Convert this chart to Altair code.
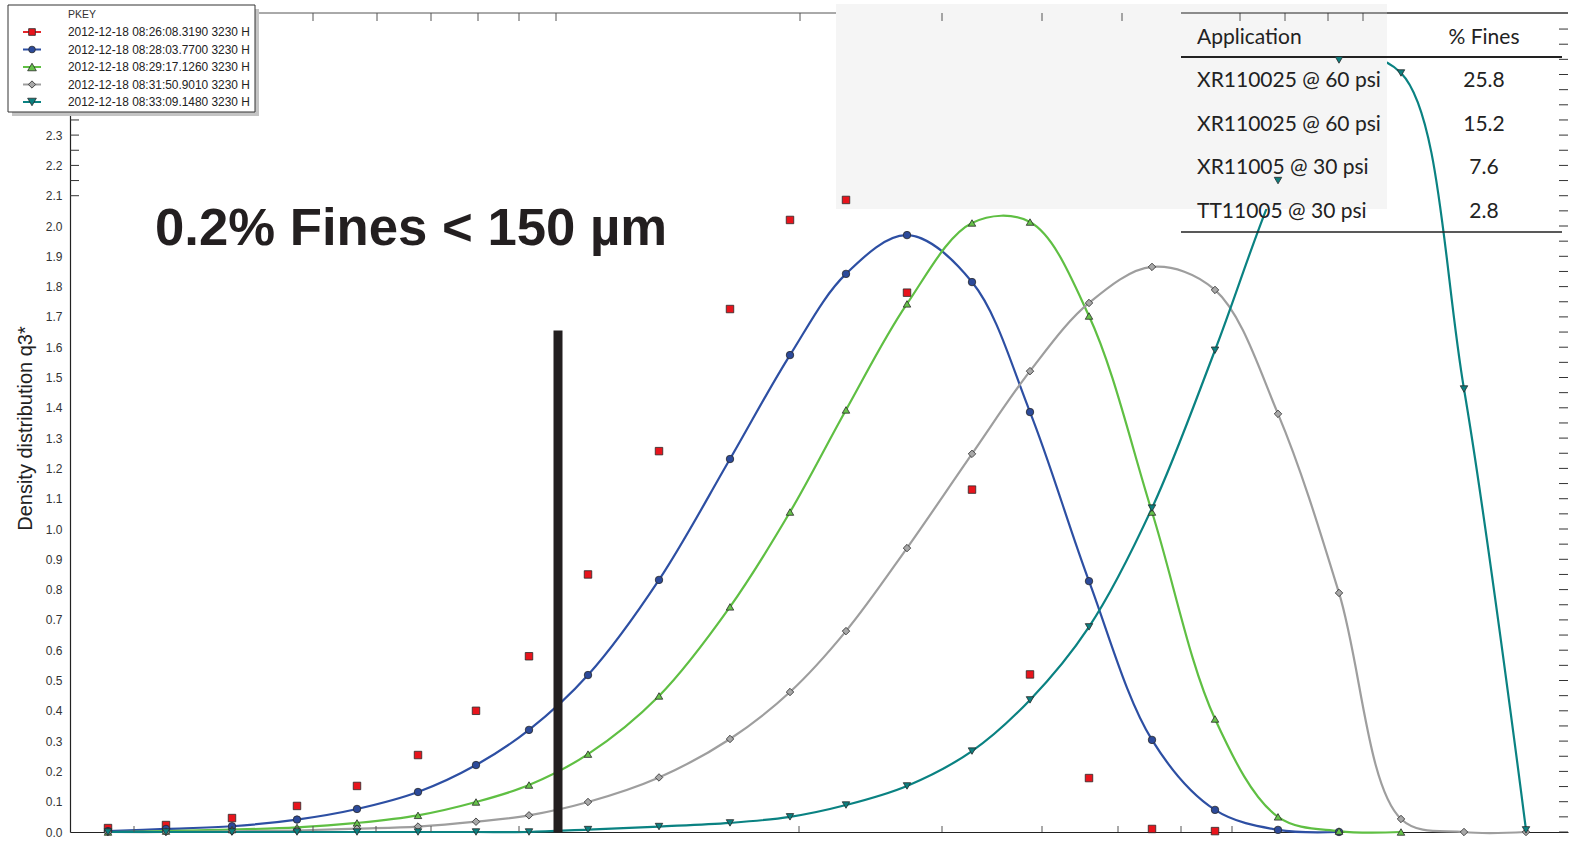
import altair as alt
import pandas as pd
import numpy as np

# ---------------- data ----------------
# particle-size class positions along the (log) size axis, in axis units
class_pos = [38, 96, 162, 227, 287, 348, 406, 459, 518, 589, 660, 720,
             776, 837, 902, 960, 1019, 1082, 1145, 1208, 1269, 1331, 1394, 1456]

series_names = [
    "2012-12-18 08:26:08.3190 3230 H",
    "2012-12-18 08:28:03.7700 3230 H",
    "2012-12-18 08:29:17.1260 3230 H",
    "2012-12-18 08:31:50.9010 3230 H",
    "2012-12-18 08:33:09.1480 3230 H",
]

q3_red = [0.013, 0.023, 0.046, 0.086, 0.152, 0.254, 0.40, 0.58, 0.85, 1.257,
          1.726, 2.02, 2.086, 1.78, 1.13, 0.52, 0.178, 0.01, 0.003]
q3_blue = [0.003, 0.01, 0.019, 0.041, 0.076, 0.132, 0.221, 0.337, 0.518, 0.832,
           1.231, 1.574, 1.842, 1.97, 1.815, 1.386, 0.828, 0.304, 0.073, 0.007, 0.0]
q3_green = [0.0, 0.003, 0.008, 0.015, 0.03, 0.055, 0.099, 0.155, 0.257, 0.449,
            0.743, 1.056, 1.393, 1.743, 2.01, 2.013, 1.703, 1.056, 0.373, 0.05, 0.003, 0.0]
q3_gray = [0.0, 0.0, 0.002, 0.005, 0.011, 0.018, 0.034, 0.055, 0.099, 0.18,
           0.307, 0.462, 0.663, 0.937, 1.248, 1.521, 1.746, 1.865, 1.789, 1.38,
           0.789, 0.043, 0.0, 0.0]
q3_teal = [0.0, 0.0, 0.0, 0.0, 0.0, 0.0, 0.0, 0.0, 0.008, 0.018, 0.03, 0.05,
           0.089, 0.152, 0.267, 0.436, 0.677, 1.069, 1.59, 2.15, 2.548, 2.505, 1.462, 0.007]

series_values = [q3_red, q3_blue, q3_green, q3_gray, q3_teal]

# 150 µm cut position and its marker bar height
cut_pos = [488]
cut_height = [1.655]

annotation = "0.2% Fines < 150 µm"

table_apps = ["XR110025 @ 60 psi", "XR110025 @ 60 psi", "XR11005 @ 30 psi", "TT11005 @ 30 psi"]
table_fines = ["25.8", "15.2", "7.6", "2.8"]

y_labels = [0.0, 0.1, 0.2, 0.3, 0.4, 0.5, 0.6, 0.7, 0.8, 0.9, 1.0, 1.1,
            1.2, 1.3, 1.4, 1.5, 1.6, 1.7, 1.8, 1.9, 2.0, 2.1, 2.2, 2.3]
bottom_ticks = [64, 243, 306, 361, 449, 729, 872, 972, 1048, 1111, 1162]
top_ticks = [243, 307, 361, 408, 449, 486, 730, 872, 972, 1052, 1170, 1215, 1258, 1293]

# ---------------- styling ----------------
line_colors = ["#e3262b", "#2d4fa3", "#5fbf43", "#9e9e9e", "#0a8282"]
fill_colors = ["#e8141c", "#2c4a9a", "#66c24a", "#a8a8a8", "#0c7f7f"]
shapes = ["square", "circle", "triangle-up", "diamond", "triangle-down"]
sizes = [56, 56, 95, 66, 95]

W, H = 1498, 819
YMAX = 2.703
FONT = "Liberation Sans"

rows = []
for name, vals in zip(series_names, series_values):
    for xp, v in zip(class_pos, vals):
        rows.append({"series": name, "x": xp, "q3": v})
df = pd.DataFrame(rows)
df_lines = df[df["series"] != series_names[0]]

xscale = alt.Scale(domain=[0, W], nice=False, zero=False)
yscale = alt.Scale(domain=[0, YMAX], nice=False, zero=False)

x_axis = alt.Axis(title=None, labels=False, ticks=False, grid=False,
                  domainColor="#222", domainWidth=1.2)
y_axis = alt.Axis(title="Density distribution q3*", values=y_labels, format=".1f",
                  ticks=False, tickSize=0, grid=False, labelPadding=8,
                  labelOverlap=False, labelFlush=False,
                  labelFont=FONT, labelFontSize=12, labelColor="#333",
                  domainColor="#222", domainWidth=1.2,
                  titleFont=FONT, titleFontSize=20, titleFontWeight="normal",
                  titleColor="#222", titleAngle=-90, titleX=-35, titleY=415,
                  titleAlign="center", titleBaseline="bottom")

X = alt.X("x:Q", scale=xscale, axis=x_axis)
Y = alt.Y("q3:Q", scale=yscale, axis=y_axis)

color_scale = alt.Scale(domain=series_names, range=line_colors)
fill_scale = alt.Scale(domain=series_names, range=fill_colors)
shape_scale = alt.Scale(domain=series_names, range=shapes)
size_scale = alt.Scale(domain=series_names, range=sizes)

layers = []

one = pd.DataFrame({"a": [0]})

# top border
layers.append(alt.Chart(one).mark_rule(color="#555", strokeWidth=1).encode(
    x=alt.value(0), x2=alt.value(W), y=alt.value(0)))

# curves
layers.append(alt.Chart(df_lines).mark_line(interpolate="catmull-rom", strokeWidth=2.2).encode(
    x=X, y=Y, color=alt.Color("series:N", scale=color_scale, legend=None)))

# 150 µm bar
df_bar = pd.DataFrame({"x": cut_pos, "q3": cut_height, "zero": [0.0]})
layers.append(alt.Chart(df_bar).mark_rule(strokeWidth=9, color="#231f20").encode(
    x=X, y=Y, y2=alt.Y2("zero:Q")))

# grey table background
layers.append(alt.Chart(one).mark_rect(fill="#f5f5f5").encode(
    x=alt.value(766), x2=alt.value(1317), y=alt.value(-9), y2=alt.value(196)))

# top ticks
layers.append(alt.Chart(pd.DataFrame({"x": top_ticks})).mark_rule(color="#555").encode(
    x=X, y=alt.value(0), y2=alt.value(8)))
# bottom ticks
layers.append(alt.Chart(pd.DataFrame({"x": bottom_ticks})).mark_rule(color="#555").encode(
    x=X, y=alt.value(H - 6), y2=alt.value(H)))
# right-edge ticks
right_ticks = [round(v, 2) for v in np.arange(0, 2.70, 0.05)]
layers.append(alt.Chart(pd.DataFrame({"q3": right_ticks})).mark_rule(color="#333").encode(
    y=Y, x=alt.value(W - 9), x2=alt.value(W)))
# left inner ticks near the top
left_ticks = [2.1, 2.15, 2.2, 2.25, 2.3, 2.35]
layers.append(alt.Chart(pd.DataFrame({"q3": left_ticks})).mark_rule(color="#333").encode(
    y=Y, x=alt.value(0), x2=alt.value(9)))

# table lines
layers.append(alt.Chart(one).mark_rule(color="#222", strokeWidth=1.2).encode(
    x=alt.value(1111), x2=alt.value(W), y=alt.value(0)))
layers.append(alt.Chart(one).mark_rule(color="#222", strokeWidth=2.2).encode(
    x=alt.value(1111), x2=alt.value(1492), y=alt.value(44)))
layers.append(alt.Chart(one).mark_rule(color="#222", strokeWidth=1.6).encode(
    x=alt.value(1111), x2=alt.value(1492), y=alt.value(219)))

# table text
TFONT = "Lato"
hdr = pd.DataFrame({"t": ["Application"]})
layers.append(alt.Chart(hdr).mark_text(font=TFONT, fontSize=21, align="left",
                                      baseline="middle", color="#222").encode(
    text="t:N", x=alt.value(1127), y=alt.value(25)))
hdr2 = pd.DataFrame({"t": ["% Fines"]})
layers.append(alt.Chart(hdr2).mark_text(font=TFONT, fontSize=21, align="center",
                                       baseline="middle", color="#222").encode(
    text="t:N", x=alt.value(1414), y=alt.value(25)))
for i, (app, fn) in enumerate(zip(table_apps, table_fines)):
    ypix = 68 + 43.5 * i
    d1 = pd.DataFrame({"t": [app]})
    layers.append(alt.Chart(d1).mark_text(font=TFONT, fontSize=21, align="left",
                                         baseline="middle", color="#222").encode(
        text="t:N", x=alt.value(1127), y=alt.value(ypix)))
    d2 = pd.DataFrame({"t": [fn]})
    layers.append(alt.Chart(d2).mark_text(font=TFONT, fontSize=21, align="center",
                                         baseline="middle", color="#222").encode(
        text="t:N", x=alt.value(1414), y=alt.value(ypix)))

# data points
layers.append(alt.Chart(df).mark_point(filled=True, opacity=1, stroke="#2a2a2a",
                                       strokeWidth=0.8).encode(
    x=X, y=Y,
    fill=alt.Fill("series:N", scale=fill_scale, legend=None),
    shape=alt.Shape("series:N", scale=shape_scale, legend=None),
    size=alt.Size("series:N", scale=size_scale, legend=None)))

# manual legend (PKEY)
layers.append(alt.Chart(one).mark_rect(fill="#c4c4c4").encode(
    x=alt.value(-58), x2=alt.value(189), y=alt.value(-4), y2=alt.value(103)))
layers.append(alt.Chart(one).mark_rect(fill="white", stroke="#333", strokeWidth=1).encode(
    x=alt.value(-62), x2=alt.value(185), y=alt.value(-8), y2=alt.value(99)))
layers.append(alt.Chart(pd.DataFrame({"t": ["PKEY"]})).mark_text(
    font=FONT, fontSize=10.5, align="left", baseline="middle", color="#333").encode(
    text="t:N", x=alt.value(-2), y=alt.value(2)))
for i, name in enumerate(series_names):
    ypix = 19 + 17.5 * i
    layers.append(alt.Chart(one).mark_rule(color=line_colors[i], strokeWidth=2).encode(
        x=alt.value(-47), x2=alt.value(-29), y=alt.value(ypix)))
    layers.append(alt.Chart(one).mark_point(filled=True, opacity=1, shape=shapes[i],
                                            fill=fill_colors[i], stroke="#2a2a2a",
                                            strokeWidth=0.8, size=sizes[i] * 0.8).encode(
        x=alt.value(-38), y=alt.value(ypix)))
    layers.append(alt.Chart(pd.DataFrame({"t": [name]})).mark_text(
        font=FONT, fontSize=11.9, align="left", baseline="middle", color="#222").encode(
        text="t:N", x=alt.value(-2), y=alt.value(ypix)))

# big annotation
layers.append(alt.Chart(pd.DataFrame({"t": [annotation]})).mark_text(
    font=FONT, fontSize=52.7, fontWeight="bold", align="left", baseline="alphabetic",
    color="#231f20").encode(text="t:N", x=alt.value(85), y=alt.value(232)))

chart = alt.layer(*layers).properties(
    width=W, height=H,
    autosize=alt.AutoSizeParams(type="none"),
    padding={"left": 70, "top": 13, "right": 2, "bottom": 13},
    background="white",
).configure_view(stroke=None)

chart.save("out.html", embed_options={"renderer": "svg", "actions": False})
